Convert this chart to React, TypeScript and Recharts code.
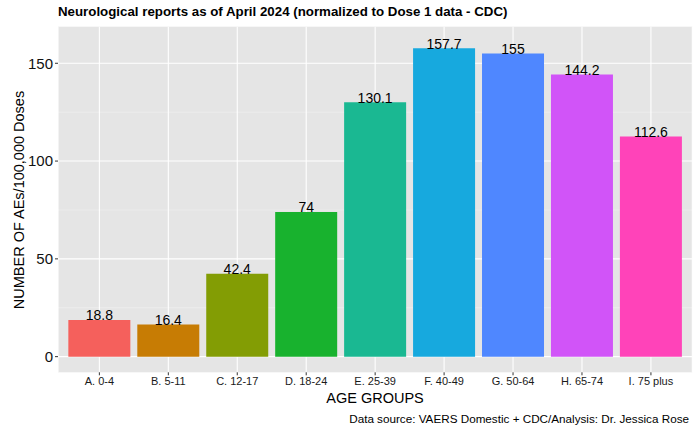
import { BarChart, Bar, XAxis, YAxis, CartesianGrid, Cell, LabelList } from "recharts";

const groups = ["A. 0-4", "B. 5-11", "C. 12-17", "D. 18-24", "E. 25-39", "F. 40-49", "G. 50-64", "H. 65-74", "I. 75 plus"];
const rates = [18.8, 16.4, 42.4, 74, 130.1, 157.7, 155, 144.2, 112.6];
const colors = ["#F5605C", "#C77C04", "#839D04", "#18B22E", "#1AB892", "#17A9DE", "#4F87FF", "#D154F8", "#FF43B9"];
const majorTicks = [0, 50, 100, 150];
const minorTicks = [25, 75, 125];

const data = groups.map((g, i) => ({ group: g, rate: rates[i] }));

const FONT = "'Liberation Sans', Arial, Helvetica, sans-serif";

const ValueLabel = (props: any) => {
  const { x, y, width, value } = props;
  return (
    <text x={x + width / 2} y={y + 0.5} textAnchor="middle" fontSize={14} fill="#000" fontFamily={FONT}>
      {value}
    </text>
  );
};

export default function App() {
  return (
    <div style={{ position: "relative", width: 700, height: 432, fontFamily: FONT, background: "#fff" }}>
      <style>{"body{margin:0}"}</style>
      <div style={{ position: "absolute", left: 58, top: 4, fontSize: 13.3, fontWeight: "bold", color: "#000", whiteSpace: "nowrap" }}>
        Neurological reports as of April 2024 (normalized to Dose 1 data - CDC)
      </div>
      <BarChart
        width={700}
        height={432}
        data={data}
        margin={{ top: 26.7, right: 7.7, bottom: 39.7, left: 0 }}
        barCategoryGap="5%"
      >
        <CartesianGrid horizontalValues={minorTicks} vertical={false} fill="#E5E5E5" stroke="#F2F2F2" strokeWidth={0.6} />
        <CartesianGrid horizontalValues={majorTicks} stroke="#FFFFFF" strokeWidth={1.1} />
        <XAxis
          dataKey="group"
          height={20}
          padding={{ left: 6.9, right: 6.9 }}
          axisLine={false}
          tickSize={3}
          tickMargin={2}
          tickLine={{ stroke: "#333", strokeWidth: 1 }}
          tick={{ fontSize: 11, fill: "#1a1a1a", fontFamily: FONT }}
          interval={0}
        />
        <YAxis
          width={58}
          domain={[-8, 168.7]}
          ticks={majorTicks}
          allowDataOverflow
          axisLine={false}
          tickSize={3}
          tickMargin={2}
          tickLine={{ stroke: "#333", strokeWidth: 1 }}
          tick={{ fontSize: 15, fill: "#111", fontFamily: FONT }}
        />
        <Bar dataKey="rate" isAnimationActive={false}>
          {data.map((d, i) => (
            <Cell key={d.group} fill={colors[i]} />
          ))}
          <LabelList dataKey="rate" content={ValueLabel} />
        </Bar>
      </BarChart>
      <div
        style={{
          position: "absolute",
          left: 19,
          top: 200,
          transform: "translate(-50%, -50%) rotate(-90deg)",
          fontSize: 14.5,
          whiteSpace: "nowrap",
          color: "#000",
        }}
      >
        NUMBER OF AEs/100,000 Doses
      </div>
      <div style={{ position: "absolute", left: 375, top: 390, transform: "translateX(-50%)", fontSize: 14.5, color: "#000", whiteSpace: "nowrap" }}>
        AGE GROUPS
      </div>
      <div style={{ position: "absolute", right: 11, top: 412, fontSize: 11.7, color: "#000", whiteSpace: "nowrap" }}>
        Data source: VAERS Domestic + CDC/Analysis: Dr. Jessica Rose
      </div>
    </div>
  );
}
